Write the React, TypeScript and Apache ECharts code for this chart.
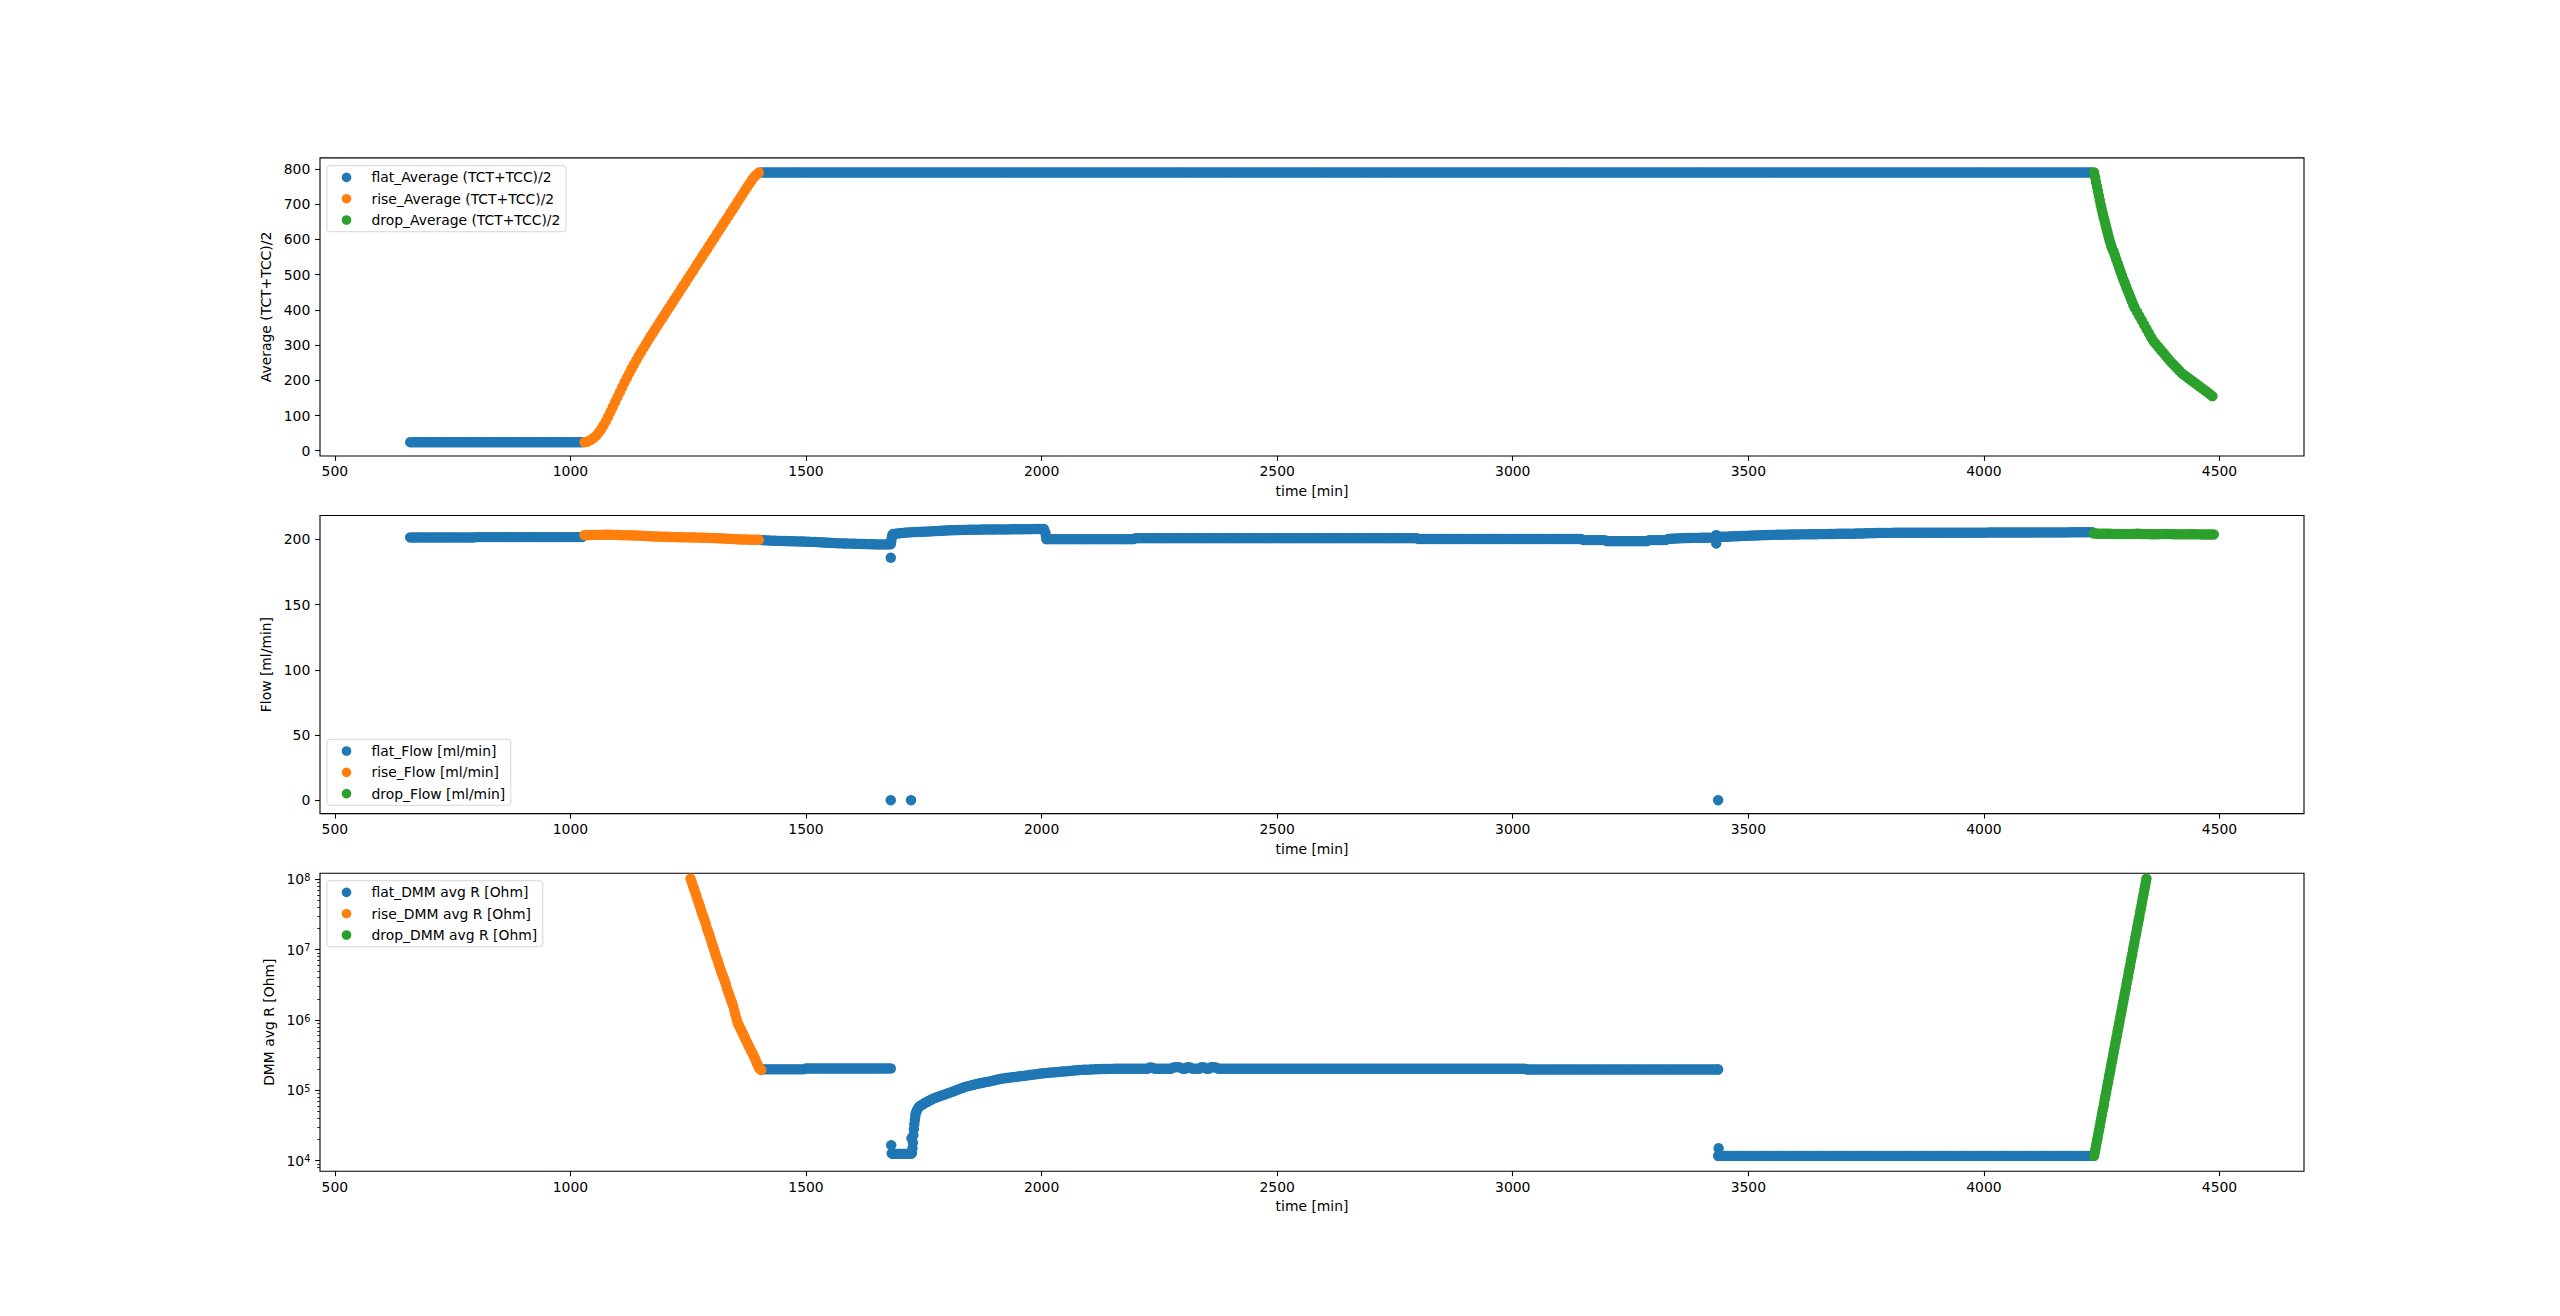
import React, { useEffect, useRef } from 'react';
import * as echarts from 'echarts';

// ---------- axis ticks ----------
const xTickValues = [500, 1000, 1500, 2000, 2500, 3000, 3500, 4000, 4500];
const avgTickValues = [0, 100, 200, 300, 400, 500, 600, 700, 800];
const flowTickValues = [0, 50, 100, 150, 200];
const dmmTickValues = [1e4, 1e5, 1e6, 1e7, 1e8];
const dmmMinorTickValues = [
  8e3, 9e3, 2e4, 3e4, 4e4, 5e4, 6e4, 7e4, 8e4, 9e4, 2e5, 3e5, 4e5, 5e5, 6e5, 7e5, 8e5, 9e5,
  2e6, 3e6, 4e6, 5e6, 6e6, 7e6, 8e6, 9e6, 2e7, 3e7, 4e7, 5e7, 6e7, 7e7, 8e7, 9e7,
];

// ---------- Average (TCT+TCC)/2 ----------
// flat, t = 660..1025 every 5 min
const avgFlatEarly = [
  24, 24, 24, 24, 24, 24, 24, 24, 24, 24, 24, 24, 24, 24, 24, 24, 24, 24, 24, 24,
  24, 24, 24, 24, 24, 24, 24, 24, 24, 24, 24, 24, 24, 24, 24, 24, 24, 24, 24, 24,
  24, 24, 24, 24, 24, 24, 24, 24, 24, 24, 24, 24, 24, 24, 24, 24, 24, 24, 24, 24,
  24, 24, 24, 24, 24, 24, 24, 24, 24, 24, 24, 24, 24, 24,
];
// rise, t = 1030..1400 every 5 min
const avgRise = [
  24, 25, 28, 32, 37, 43, 51, 60, 71, 83,
  96, 110, 124, 138, 152, 166, 180, 194, 207, 220,
  233, 245, 257, 269, 280, 291, 302, 313, 324, 334,
  345, 355, 366, 376, 386, 397, 407, 417, 428, 438,
  448, 459, 469, 479, 490, 500, 510, 521, 531, 541,
  552, 562, 572, 583, 593, 603, 614, 624, 634, 645,
  655, 665, 676, 686, 696, 707, 717, 727, 738, 748,
  758, 768, 777, 784, 790,
];
// flat hold, t = 1405..4230 every 5 min
const avgFlatHold = [
  790, 790, 790, 790, 790, 790, 790, 790, 790, 790, 790, 790, 790, 790, 790, 790, 790, 790, 790, 790,
  790, 790, 790, 790, 790, 790, 790, 790, 790, 790, 790, 790, 790, 790, 790, 790, 790, 790, 790, 790,
  790, 790, 790, 790, 790, 790, 790, 790, 790, 790, 790, 790, 790, 790, 790, 790, 790, 790, 790, 790,
  790, 790, 790, 790, 790, 790, 790, 790, 790, 790, 790, 790, 790, 790, 790, 790, 790, 790, 790, 790,
  790, 790, 790, 790, 790, 790, 790, 790, 790, 790, 790, 790, 790, 790, 790, 790, 790, 790, 790, 790,
  790, 790, 790, 790, 790, 790, 790, 790, 790, 790, 790, 790, 790, 790, 790, 790, 790, 790, 790, 790,
  790, 790, 790, 790, 790, 790, 790, 790, 790, 790, 790, 790, 790, 790, 790, 790, 790, 790, 790, 790,
  790, 790, 790, 790, 790, 790, 790, 790, 790, 790, 790, 790, 790, 790, 790, 790, 790, 790, 790, 790,
  790, 790, 790, 790, 790, 790, 790, 790, 790, 790, 790, 790, 790, 790, 790, 790, 790, 790, 790, 790,
  790, 790, 790, 790, 790, 790, 790, 790, 790, 790, 790, 790, 790, 790, 790, 790, 790, 790, 790, 790,
  790, 790, 790, 790, 790, 790, 790, 790, 790, 790, 790, 790, 790, 790, 790, 790, 790, 790, 790, 790,
  790, 790, 790, 790, 790, 790, 790, 790, 790, 790, 790, 790, 790, 790, 790, 790, 790, 790, 790, 790,
  790, 790, 790, 790, 790, 790, 790, 790, 790, 790, 790, 790, 790, 790, 790, 790, 790, 790, 790, 790,
  790, 790, 790, 790, 790, 790, 790, 790, 790, 790, 790, 790, 790, 790, 790, 790, 790, 790, 790, 790,
  790, 790, 790, 790, 790, 790, 790, 790, 790, 790, 790, 790, 790, 790, 790, 790, 790, 790, 790, 790,
  790, 790, 790, 790, 790, 790, 790, 790, 790, 790, 790, 790, 790, 790, 790, 790, 790, 790, 790, 790,
  790, 790, 790, 790, 790, 790, 790, 790, 790, 790, 790, 790, 790, 790, 790, 790, 790, 790, 790, 790,
  790, 790, 790, 790, 790, 790, 790, 790, 790, 790, 790, 790, 790, 790, 790, 790, 790, 790, 790, 790,
  790, 790, 790, 790, 790, 790, 790, 790, 790, 790, 790, 790, 790, 790, 790, 790, 790, 790, 790, 790,
  790, 790, 790, 790, 790, 790, 790, 790, 790, 790, 790, 790, 790, 790, 790, 790, 790, 790, 790, 790,
  790, 790, 790, 790, 790, 790, 790, 790, 790, 790, 790, 790, 790, 790, 790, 790, 790, 790, 790, 790,
  790, 790, 790, 790, 790, 790, 790, 790, 790, 790, 790, 790, 790, 790, 790, 790, 790, 790, 790, 790,
  790, 790, 790, 790, 790, 790, 790, 790, 790, 790, 790, 790, 790, 790, 790, 790, 790, 790, 790, 790,
  790, 790, 790, 790, 790, 790, 790, 790, 790, 790, 790, 790, 790, 790, 790, 790, 790, 790, 790, 790,
  790, 790, 790, 790, 790, 790, 790, 790, 790, 790, 790, 790, 790, 790, 790, 790, 790, 790, 790, 790,
  790, 790, 790, 790, 790, 790, 790, 790, 790, 790, 790, 790, 790, 790, 790, 790, 790, 790, 790, 790,
  790, 790, 790, 790, 790, 790, 790, 790, 790, 790, 790, 790, 790, 790, 790, 790, 790, 790, 790, 790,
  790, 790, 790, 790, 790, 790, 790, 790, 790, 790, 790, 790, 790, 790, 790, 790, 790, 790, 790, 790,
  790, 790, 790, 790, 790, 790,
];
// drop, t = 4234..4272 every 2 min
const avgDropA = [790, 777, 763, 750, 737, 724, 711, 698, 686, 675, 664, 654, 643, 632, 622, 611, 601, 592, 583, 575];
// drop, t = 4275..4320 every 3 min
const avgDropB = [566, 555, 543, 532, 520, 508, 497, 486, 476, 465, 455, 445, 435, 425, 415, 406];
// drop, t = 4325..4485 every 5 min
const avgDropC = [
  394, 382, 370, 358, 346, 334, 322, 311, 303, 295,
  287, 279, 271, 263, 255, 248, 241, 234, 227, 220,
  215, 210, 205, 200, 195, 190, 185, 180, 175, 170,
  165, 160, 155,
];

// ---------- Flow [ml/min] ----------
// flat, t = 660..1025 every 5 min
const flowFlatEarly = [
  201.5, 201.5, 201.5, 201.5, 201.5, 201.5, 201.5, 201.5, 201.5, 201.5, 201.5, 201.5, 201.5, 201.5, 201.5, 201.5, 201.5, 201.5, 201.5, 201.5,
  201.5, 201.5, 201.5, 201.5, 201.5, 201.5, 201.5, 201.5,
  201.8, 201.8, 201.8, 201.8, 201.8, 201.8, 201.8, 201.8, 201.8, 201.8, 201.8, 201.8, 201.8, 201.8, 201.8, 201.8, 201.8, 201.8, 201.8, 201.8,
  201.8, 201.8, 201.8, 201.8, 201.8, 201.8, 201.8, 201.8, 201.8, 201.8, 201.8, 201.8, 201.8, 201.8, 201.8, 201.8, 201.8, 201.8, 201.8, 201.8,
  201.8, 201.8, 201.8, 201.8, 201.8, 201.8,
];
// rise, t = 1030..1400 every 5 min
const flowRise = [
  203.3, 203.3, 203.4, 203.4, 203.5, 203.5, 203.5, 203.5, 203.6, 203.6,
  203.6, 203.6, 203.5, 203.5, 203.4, 203.4, 203.3, 203.3, 203.2, 203.2,
  203.1, 203.0, 203.0, 202.9, 202.8, 202.7, 202.6, 202.5, 202.4, 202.3,
  202.2, 202.2, 202.1, 202.0, 202.0, 202.0, 201.9, 201.9, 201.8, 201.8,
  201.7, 201.7, 201.6, 201.6, 201.6, 201.5, 201.5, 201.5, 201.4, 201.4,
  201.3, 201.3, 201.2, 201.2, 201.1, 201.1, 201.0, 200.9, 200.8, 200.7,
  200.6, 200.5, 200.4, 200.3, 200.2, 200.1, 200.0, 200.0, 199.9, 199.9,
  199.8, 199.8, 199.7, 199.7, 199.7,
];
// flat, t = 1405..1675 every 5 min
const flowFlatA = [
  199.5, 199.4, 199.3, 199.2, 199.1, 199.0, 199.0, 198.9, 198.9, 198.8,
  198.8, 198.7, 198.7, 198.6, 198.6, 198.5, 198.5, 198.4, 198.4, 198.3,
  198.2, 198.1, 198.1, 198.0, 197.9, 197.8, 197.7, 197.6, 197.5, 197.4,
  197.3, 197.2, 197.1, 197.0, 197.0, 196.9, 196.9, 196.8, 196.8, 196.7,
  196.7, 196.6, 196.6, 196.5, 196.5, 196.4, 196.4, 196.3, 196.3, 196.2,
  196.2, 196.2, 196.2, 196.2, 196.2,
];
// single readings (time, flow)
const flowSingles = [
  [1680, 196.3], [1680, 185.9], [1680, 0], [1681, 198.5], [1682, 201.0], [1683, 203.2],
  [1723, 0], [2008, 205.5], [2009, 203.0], [3432, 203.3], [3432, 196.9], [3436, 0],
];
// flat, t = 1685..2005 every 5 min
const flowFlatB = [
  204.2, 204.3, 204.5, 204.7, 205.0, 205.1, 205.3, 205.4, 205.6, 205.7,
  205.8, 205.8, 205.9, 205.9, 206.0, 206.1, 206.2, 206.3, 206.4, 206.5,
  206.6, 206.7, 206.8, 206.9, 207.0, 207.0, 207.1, 207.1, 207.2, 207.2,
  207.3, 207.3, 207.4, 207.4, 207.5, 207.5, 207.5, 207.5, 207.6, 207.6,
  207.6, 207.6, 207.6, 207.6, 207.7, 207.7, 207.7, 207.7, 207.7, 207.7,
  207.8, 207.8, 207.8, 207.8, 207.8, 207.8, 207.9, 207.9, 207.9, 207.9,
  208.0, 208.0, 208.0, 208.0, 208.0,
];
// flat, t = 2010..4230 every 5 min
const flowFlatC = [
  200.2, 200.2, 200.2, 200.2, 200.2, 200.2, 200.2, 200.2, 200.2, 200.2, 200.2, 200.2, 200.2, 200.2, 200.2, 200.2, 200.2, 200.2, 200.2, 200.2,
  200.2, 200.2, 200.2, 200.2, 200.2, 200.2, 200.2, 200.2, 200.2, 200.2, 200.2, 200.2, 200.2, 200.2, 200.2, 200.2, 200.2, 200.2,
  201.0, 201.0, 201.0, 201.0, 201.0, 201.0, 201.0, 201.0, 201.0, 201.0, 201.0, 201.0, 201.0, 201.0, 201.0, 201.0, 201.0, 201.0, 201.0, 201.0,
  201.0, 201.0, 201.0, 201.0, 201.0, 201.0, 201.0, 201.0, 201.0, 201.0, 201.0, 201.0, 201.0, 201.0, 201.0, 201.0, 201.0, 201.0, 201.0, 201.0,
  201.0, 201.0, 201.0, 201.0, 201.0, 201.0, 201.0, 201.0, 201.0, 201.0, 201.0, 201.0, 201.0, 201.0, 201.0, 201.0, 201.0, 201.0, 201.0, 201.0,
  201.0, 201.0, 201.0, 201.0, 201.0, 201.0, 201.0, 201.0, 201.0, 201.0, 201.0, 201.0, 201.0, 201.0, 201.0, 201.0, 201.0, 201.0, 201.0, 201.0,
  201.0, 201.0, 201.0, 201.0, 201.0, 201.0, 201.0, 201.0, 201.0, 201.0, 201.0, 201.0, 201.0, 201.0, 201.0, 201.0, 201.0, 201.0, 201.0, 201.0,
  201.0, 201.0, 201.0, 201.0, 201.0, 201.0, 201.0, 201.0, 201.0, 201.0, 201.0, 201.0, 201.0, 201.0, 201.0, 201.0, 201.0, 201.0, 201.0, 201.0,
  200.3, 200.3, 200.3, 200.3, 200.3, 200.3, 200.3, 200.3, 200.3, 200.3, 200.3, 200.3, 200.3, 200.3, 200.3, 200.3, 200.3, 200.3, 200.3, 200.3,
  200.3, 200.3, 200.3, 200.3, 200.3, 200.3, 200.3, 200.3, 200.3, 200.3, 200.3, 200.3, 200.3, 200.3, 200.3, 200.3, 200.3, 200.3, 200.3, 200.3,
  200.3, 200.3, 200.3, 200.3, 200.3, 200.3, 200.3, 200.3, 200.3, 200.3, 200.3, 200.3, 200.3, 200.3, 200.3, 200.3, 200.3, 200.3, 200.3, 200.3,
  200.3, 200.3, 200.3, 200.3, 200.3, 200.3, 200.3, 200.3, 200.3, 200.3,
  199.5, 199.5, 199.5, 199.5, 199.5, 199.5, 199.5, 199.5, 199.5, 199.5,
  198.7, 198.7, 198.7, 198.7, 198.7, 198.7, 198.7, 198.7, 198.7, 198.7, 198.7, 198.7, 198.7, 198.7, 198.7, 198.7, 198.7, 198.7,
  199.5, 199.5, 199.5, 199.5, 199.5, 199.5, 199.5, 199.5,
  200.4, 200.5, 200.6, 200.7, 200.8, 200.9, 201.0, 201.0, 201.1, 201.1, 201.2,
  201.2, 201.2, 201.2, 201.3, 201.3, 201.3, 201.3, 201.4, 201.4, 201.5, 201.7,
  202.0, 202.0, 202.1, 202.1, 202.2, 202.3, 202.4, 202.4, 202.5, 202.6,
  202.7, 202.7, 202.8, 202.9, 203.0, 203.0, 203.1, 203.2, 203.3, 203.3,
  203.4, 203.4, 203.5, 203.5, 203.6, 203.6, 203.6, 203.6, 203.7, 203.7,
  203.8, 203.8, 203.8, 203.8, 203.9, 203.9, 203.9, 203.9, 204.0, 204.0,
  204.0, 204.0, 204.1, 204.1, 204.1, 204.1, 204.2, 204.2, 204.2, 204.2,
  204.3, 204.3, 204.3, 204.3, 204.4, 204.4, 204.4, 204.4, 204.5, 204.5,
  204.6, 204.6, 204.7, 204.7, 204.8, 204.8, 204.9, 204.9, 205.0, 205.0,
  205.0, 205.0, 205.0, 205.0,
  205.1, 205.1, 205.1, 205.1, 205.1, 205.1, 205.1, 205.1, 205.1, 205.1, 205.1, 205.1, 205.1, 205.1, 205.1, 205.1, 205.1, 205.1, 205.1, 205.1,
  205.2, 205.2, 205.2, 205.2, 205.2, 205.2, 205.2, 205.2, 205.2, 205.2, 205.2, 205.2, 205.2, 205.2, 205.2, 205.2, 205.2, 205.2, 205.2, 205.2,
  205.3, 205.3, 205.3, 205.3, 205.3, 205.3, 205.3, 205.3, 205.3, 205.3, 205.3, 205.3, 205.3, 205.3, 205.3, 205.3, 205.3, 205.3, 205.3, 205.3,
  205.4, 205.4, 205.4, 205.4, 205.4, 205.4, 205.4, 205.4, 205.4, 205.4, 205.4, 205.4, 205.4, 205.4, 205.4,
  205.5, 205.5, 205.5, 205.5, 205.5, 205.5, 205.5, 205.5, 205.5, 205.5,
];
// drop, t = 4233..4488 every 5 min
const flowDrop = [
  204.5, 204.5, 204.4, 204.4, 204.3, 204.3, 204.3, 204.3, 204.2, 204.2,
  204.2, 204.2, 204.1, 204.1, 204.1, 204.1, 204.2, 204.2, 204.3, 204.3,
  204.2, 204.2, 204.1, 204.1, 204.0, 204.0, 204.0, 204.0, 204.1, 204.1,
  204.2, 204.2, 204.1, 204.1, 204.0, 204.0, 203.9, 203.9, 203.9, 203.9,
  204.0, 204.0, 204.0, 204.0, 203.9, 203.9, 203.8, 203.8, 203.8, 203.8,
  203.8, 203.8,
];

// ---------- DMM avg R [Ohm] ----------
// rise, t = 1255..1405 every 2.5 min
const dmmRise = [
  1.02e8, 9.1e7, 8.1e7, 7.3e7, 6.5e7, 5.8e7, 5.1e7, 4.6e7, 4.1e7, 3.6e7,
  3.2e7, 2.9e7, 2.6e7, 2.3e7, 2.0e7, 1.8e7, 1.62e7, 1.43e7, 1.26e7, 1.12e7,
  1.0e7, 8.8e6, 7.8e6, 7.0e6, 6.2e6, 5.5e6, 4.9e6, 4.4e6, 4.0e6, 3.6e6,
  3.2e6, 2.8e6, 2.5e6, 2.25e6, 2.0e6, 1.8e6, 1.62e6, 1.4e6, 1.2e6, 1.04e6,
  9.1e5, 8.4e5, 7.8e5, 7.2e5, 6.6e5, 6.1e5, 5.6e5, 5.2e5, 4.8e5, 4.4e5,
  4.1e5, 3.8e5, 3.5e5, 3.25e5, 3.0e5, 2.75e5, 2.5e5, 2.3e5, 2.1e5, 2.0e5,
  1.95e5,
];
// flat, t = 1405..1680 every 5 min
const dmmFlatA = [
  199000, 199000, 199000, 199000, 199000, 199000, 199000, 199000, 199000, 199000,
  199000, 199000, 199000, 199000, 199000, 199000, 199000, 199000, 199000,
  204000, 204000, 204000, 204000, 204000, 204000, 204000, 204000, 204000, 204000,
  204000, 204000, 204000, 204000, 204000, 204000, 204000, 204000, 204000, 204000,
  204000, 204000, 204000, 204000, 204000, 204000, 204000, 204000, 204000, 204000,
  204000, 204000, 204000, 204000, 204000, 204000, 204000,
];
// dip and recovery (time, ohm)
const dmmDip = [
  [1681, 16600], [1682, 12700], [1685, 12500], [1688, 12500], [1691, 12500], [1694, 12500],
  [1697, 12500], [1700, 12500], [1703, 12500], [1706, 12500], [1709, 12500], [1712, 12500],
  [1715, 12500], [1718, 12500], [1721, 12500], [1723, 12600], [1725, 12800], [1724, 20800],
  [1726, 15000], [1727, 18000], [1728, 23000], [1729, 28000], [1730, 33000], [1731, 38000],
  [1732, 43000], [1733, 47000], [1735, 51000], [1737, 54000], [1739, 57000], [1741, 59000],
  [1744, 61000], [1747, 62500], [1750, 64500], [1753, 66500], [1756, 68000], [1759, 69500],
  [1762, 71500], [1765, 73000], [1768, 75000], [1772, 77000], [1776, 79000],
];
// recovery, t = 1780..2150 every 5 min
const dmmRecover = [
  80500, 83000, 85000, 87500, 90000, 92500, 95000, 98000, 101000, 104000,
  107000, 110000, 113000, 115000, 117000, 119500, 122000, 124000, 126000, 128000,
  130000, 132000, 134000, 136500, 139000, 141500, 144000, 146000, 148000, 149500,
  151000, 152500, 154000, 155500, 157000, 158500, 160000, 161500, 163000, 165000,
  167000, 168500, 170000, 172000, 174000, 175000, 176000, 177500, 179000, 180000,
  181000, 182500, 184000, 185000, 186000, 187500, 189000, 190500, 192000, 193500,
  195000, 195500, 196000, 196500, 197000, 198000, 199000, 199500, 200000, 200500,
  201000, 201500, 202000, 202000, 202000,
];
// flat, t = 2155..3435 every 5 min
const dmmFlatB = [
  203000, 203000, 203000, 203000, 203000, 203000, 203000, 203000, 203000, 203000, 203000, 203000, 203000, 203000, 203000,
  212000, 210000,
  203000, 203000, 203000, 203000, 203000, 203000, 203000, 203000,
  212000, 213000, 214000, 210000,
  203000, 203000,
  213000, 211000,
  203000, 203000, 203000, 203000,
  214000, 211000,
  203000, 203000,
  213000, 213000, 212000,
  203000, 203000, 203000, 203000, 203000, 203000, 203000, 203000, 203000, 203000, 203000, 203000, 203000, 203000, 203000, 203000, 203000, 203000, 203000, 203000,
  203000, 203000, 203000, 203000, 203000, 203000, 203000, 203000, 203000, 203000, 203000, 203000, 203000, 203000, 203000, 203000, 203000, 203000, 203000, 203000,
  203000, 203000, 203000, 203000, 203000, 203000, 203000, 203000, 203000, 203000, 203000, 203000, 203000, 203000, 203000, 203000, 203000, 203000, 203000, 203000,
  203000, 203000, 203000, 203000, 203000, 203000, 203000, 203000, 203000, 203000, 203000, 203000, 203000, 203000, 203000, 203000, 203000, 203000, 203000, 203000,
  203000, 203000, 203000, 203000, 203000, 203000, 203000, 203000, 203000, 203000, 203000, 203000, 203000, 203000, 203000, 203000, 203000, 203000, 203000, 203000,
  203000, 203000, 203000, 203000, 203000, 203000, 203000, 203000, 203000, 203000, 203000, 203000, 203000, 203000, 203000, 203000, 203000, 203000, 203000, 203000,
  203000, 203000, 203000, 203000, 203000, 203000, 203000, 203000, 203000, 203000, 203000,
  198000, 198000, 198000, 198000, 198000, 198000, 198000, 198000, 198000, 198000, 198000, 198000, 198000, 198000, 198000, 198000, 198000, 198000, 198000, 198000,
  198000, 198000, 198000, 198000, 198000, 198000, 198000, 198000, 198000, 198000, 198000, 198000, 198000, 198000, 198000, 198000, 198000, 198000, 198000, 198000,
  198000, 198000, 198000, 198000, 198000, 198000, 198000, 198000, 198000, 198000, 198000, 198000, 198000, 198000, 198000, 198000, 198000, 198000, 198000, 198000,
  198000, 198000, 198000, 198000, 198000, 198000, 198000, 198000, 198000, 198000, 198000, 198000, 198000, 198000, 198000, 198000, 198000, 198000, 198000, 198000,
  198000, 198000,
];
// single readings (time, ohm)
const dmmSingles = [[3436, 198000], [3437, 15000], [3436, 11700]];
// flat, t = 3440..4230 every 5 min
const dmmFlatC = [
  11700, 11700, 11700, 11700, 11700, 11700, 11700, 11700, 11700, 11700, 11700, 11700, 11700, 11700, 11700, 11700, 11700, 11700, 11700, 11700,
  11700, 11700, 11700, 11700, 11700, 11700, 11700, 11700, 11700, 11700, 11700, 11700, 11700, 11700, 11700, 11700, 11700, 11700, 11700, 11700,
  11700, 11700, 11700, 11700, 11700, 11700, 11700, 11700, 11700, 11700, 11700, 11700, 11700, 11700, 11700, 11700, 11700, 11700, 11700, 11700,
  11700, 11700, 11700, 11700, 11700, 11700, 11700, 11700, 11700, 11700, 11700, 11700, 11700, 11700, 11700, 11700, 11700, 11700, 11700, 11700,
  11700, 11700, 11700, 11700, 11700, 11700, 11700, 11700, 11700, 11700, 11700, 11700, 11700, 11700, 11700, 11700, 11700, 11700, 11700, 11700,
  11700, 11700, 11700, 11700, 11700, 11700, 11700, 11700, 11700, 11700, 11700, 11700, 11700, 11700, 11700, 11700, 11700, 11700, 11700, 11700,
  11700, 11700, 11700, 11700, 11700, 11700, 11700, 11700, 11700, 11700, 11700, 11700, 11700, 11700, 11700, 11700, 11700, 11700, 11700, 11700,
  11700, 11700, 11700, 11700, 11700, 11700, 11700, 11700, 11700, 11700, 11700, 11700, 11700, 11700, 11700, 11700, 11700, 11700, 11700,
];
// drop (R rises), t = 4234..4345 every 1.5 min
const dmmDrop = [
  11700, 13200, 14800, 17000, 19100, 21400, 24500, 27500, 30900, 35500,
  39800, 44700, 51300, 57500, 64600, 74100, 83200, 93300, 107000, 120000,
  135000, 155000, 174000, 195000, 224000, 251000, 282000, 324000, 363000, 407000,
  468000, 525000, 589000, 676000, 759000, 851000, 955000, 1.10e6, 1.23e6, 1.38e6,
  1.58e6, 1.78e6, 2.0e6, 2.29e6, 2.57e6, 2.88e6, 3.31e6, 3.72e6, 4.17e6, 4.79e6,
  5.37e6, 6.03e6, 6.92e6, 7.76e6, 8.71e6, 1.0e7, 1.12e7, 1.26e7, 1.45e7, 1.62e7,
  1.82e7, 2.09e7, 2.34e7, 2.63e7, 2.95e7, 3.39e7, 3.80e7, 4.27e7, 4.90e7, 5.50e7,
  6.17e7, 7.08e7, 7.94e7, 8.91e7, 1.02e8,
];

// ---------- styling ----------
const FONT = 'DejaVu Sans';
const FS = 13.9;
const BLUE = '#1f77b4';
const ORANGE = '#ff7f0e';
const GREEN = '#2ca02c';
const X_MIN = 468.6;
const X_MAX = 4679.4;
const GRID_LEFT = 320;
const GRID_WIDTH = 1984;
const GRID_HEIGHT = 298.04;
const GRID_TOPS = [157.92, 515.57, 873.2];

const sampled = (t0: number, dt: number, values: number[]) => values.map((v, i) => [t0 + i * dt, v]);

function buildOption() {
  const textBase = { fontFamily: FONT, fontSize: FS, color: '#000' };

  const grids = GRID_TOPS.map((top) => ({
    left: GRID_LEFT, top, width: GRID_WIDTH, height: GRID_HEIGHT,
    show: true, borderColor: '#000', borderWidth: 1.1, backgroundColor: 'transparent',
  }));

  const xAxes = [0, 1, 2].map((g) => ({
    type: 'value', gridIndex: g, min: X_MIN, max: X_MAX, position: 'bottom',
    name: 'time [min]', nameLocation: 'middle', nameGap: 28,
    nameTextStyle: { ...textBase },
    axisLine: { show: false, onZero: false },
    axisTick: { show: true, length: 4.9, lineStyle: { color: '#000', width: 1.1 }, customValues: xTickValues },
    axisLabel: { ...textBase, margin: 8.5, customValues: xTickValues, formatter: (v: number) => String(v) },
    splitLine: { show: false },
  }));

  const yCommon = {
    position: 'left',
    nameLocation: 'middle', nameGap: 40, nameRotate: 90,
    nameTextStyle: { ...textBase },
    axisLine: { show: false, onZero: false },
    splitLine: { show: false },
  };

  const yAxes: any[] = [
    {
      ...yCommon, type: 'value', gridIndex: 0, min: -14.9, max: 831.5, name: 'Average (TCT+TCC)/2',
      axisTick: { show: true, length: 4.9, lineStyle: { color: '#000', width: 1.1 }, customValues: avgTickValues },
      axisLabel: { ...textBase, margin: 9.7, customValues: avgTickValues, formatter: (v: number) => String(v) },
    },
    {
      ...yCommon, type: 'value', gridIndex: 1, min: -10.3, max: 218.3, name: 'Flow [ml/min]',
      axisTick: { show: true, length: 4.9, lineStyle: { color: '#000', width: 1.1 }, customValues: flowTickValues },
      axisLabel: { ...textBase, margin: 9.7, customValues: flowTickValues, formatter: (v: number) => String(v) },
    },
    {
      ...yCommon, type: 'log', logBase: 10, gridIndex: 2, min: 7080, max: 1.222e8, name: 'DMM avg R [Ohm]',
      axisTick: { show: true, length: 4.9, lineStyle: { color: '#000', width: 1.1 }, customValues: dmmTickValues },
      axisLabel: {
        margin: 9.7, customValues: dmmTickValues,
        formatter: (v: number) => `{b|10}{s|${Math.round(Math.log10(v))}}`,
        rich: {
          b: { fontFamily: FONT, fontSize: FS, color: '#000', lineHeight: 14, padding: [4, 0, 0, 0], verticalAlign: 'bottom' },
          s: { fontFamily: FONT, fontSize: 9.7, color: '#000', lineHeight: 11, verticalAlign: 'top' },
        },
      },
    },
    {
      type: 'log', logBase: 10, gridIndex: 2, min: 7080, max: 1.222e8, position: 'left',
      axisLine: { show: false, onZero: false }, splitLine: { show: false },
      axisLabel: { show: false },
      axisTick: { show: true, length: 2.8, lineStyle: { color: '#000', width: 0.8 }, customValues: dmmMinorTickValues },
    },
  ];

  const scatter = (name: string, idx: number, color: string, data: number[][]) => ({
    type: 'scatter', name, xAxisIndex: idx, yAxisIndex: idx, data,
    symbol: 'circle', symbolSize: 10.4, itemStyle: { color, opacity: 1, borderWidth: 0 },
    emphasis: { disabled: true }, clip: true, large: false,
  });

  const avgNames = ['flat_Average (TCT+TCC)/2', 'rise_Average (TCT+TCC)/2', 'drop_Average (TCT+TCC)/2'];
  const flowNames = ['flat_Flow [ml/min]', 'rise_Flow [ml/min]', 'drop_Flow [ml/min]'];
  const dmmNames = ['flat_DMM avg R [Ohm]', 'rise_DMM avg R [Ohm]', 'drop_DMM avg R [Ohm]'];

  const series = [
    scatter(avgNames[0], 0, BLUE, [...sampled(660, 5, avgFlatEarly), ...sampled(1405, 5, avgFlatHold)]),
    scatter(avgNames[1], 0, ORANGE, sampled(1030, 5, avgRise)),
    scatter(avgNames[2], 0, GREEN, [
      ...sampled(4234, 2, avgDropA), ...sampled(4275, 3, avgDropB), ...sampled(4325, 5, avgDropC),
    ]),

    scatter(flowNames[0], 1, BLUE, [
      ...sampled(660, 5, flowFlatEarly), ...sampled(1405, 5, flowFlatA), ...flowSingles,
      ...sampled(1685, 5, flowFlatB), ...sampled(2010, 5, flowFlatC),
    ]),
    scatter(flowNames[1], 1, ORANGE, sampled(1030, 5, flowRise)),
    scatter(flowNames[2], 1, GREEN, sampled(4233, 5, flowDrop)),

    scatter(dmmNames[0], 2, BLUE, [
      ...sampled(1405, 5, dmmFlatA), ...dmmDip, ...sampled(1780, 5, dmmRecover),
      ...sampled(2155, 5, dmmFlatB), ...dmmSingles, ...sampled(3440, 5, dmmFlatC),
    ]),
    scatter(dmmNames[1], 2, ORANGE, sampled(1255, 2.5, dmmRise)),
    scatter(dmmNames[2], 2, GREEN, sampled(4234, 1.5, dmmDrop)),
  ];

  const legend = (top: number, names: string[]) => ({
    orient: 'vertical', left: 327, top, data: names, icon: 'circle',
    itemWidth: 9.6, itemHeight: 9.6, itemGap: 7.3,
    padding: [4.7, 5.6, 4.7, 14.7],
    backgroundColor: 'rgba(255,255,255,0.8)', borderColor: 'rgba(204,204,204,0.8)',
    borderWidth: 1, borderRadius: 3, selectedMode: false,
    formatter: (name: string) => `{t|${name}}`,
    textStyle: {
      ...textBase, lineHeight: 14,
      rich: { t: { fontFamily: FONT, fontSize: FS, color: '#000', lineHeight: 14, padding: [0, 0, 0, 15.2] } },
    },
  });

  return {
    animation: false,
    backgroundColor: '#ffffff',
    textStyle: { fontFamily: FONT },
    grid: grids,
    xAxis: xAxes,
    yAxis: yAxes,
    legend: [legend(165.7, avgNames), legend(739.3, flowNames), legend(880.7, dmmNames)],
    series,
  };
}

export default function App() {
  const ref = useRef<HTMLDivElement>(null);
  useEffect(() => {
    if (!ref.current) return;
    const chart = echarts.init(ref.current, null, { renderer: 'svg' });
    chart.setOption(buildOption() as any);
    return () => chart.dispose();
  }, []);
  return (
    <div
      ref={ref}
      style={{ position: 'absolute', left: 0, top: 0, width: 2560, height: 1316, background: '#fff' }}
    />
  );
}
